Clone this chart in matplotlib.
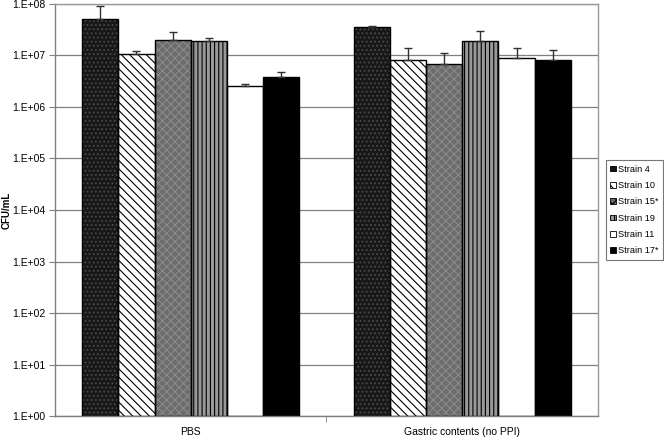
import matplotlib
matplotlib.use("Agg")
import matplotlib.pyplot as plt
import numpy as np
from matplotlib.ticker import FixedLocator, NullLocator
from matplotlib.patches import Patch

# data
groups = ["PBS", "Gastric contents (no PPI)"]
strains = ["Strain 4", "Strain 10", "Strain 15*", "Strain 19", "Strain 11", "Strain 17*"]
means = [
    [5.1e7, 1.09e7, 2.04e7, 1.92e7, 2.58e6, 3.85e6],
    [3.57e7, 8.0e6, 6.9e6, 1.95e7, 9.1e6, 8.2e6],
]
upper = [
    [9.3e7, 1.23e7, 2.8e7, 2.23e7, 2.79e6, 4.8e6],
    [3.8e7, 1.37e7, 1.11e7, 3.05e7, 1.37e7, 1.28e7],
]
ytick_vals = [1e0, 1e1, 1e2, 1e3, 1e4, 1e5, 1e6, 1e7, 1e8]
ytick_labels = ["1.E+00", "1.E+01", "1.E+02", "1.E+03", "1.E+04",
                "1.E+05", "1.E+06", "1.E+07", "1.E+08"]

# face colour, hatch, hatch colour for each strain
styles = [
    ("#181818", "....", "#4a4a4a"),
    ("white", "\\\\\\\\", "black"),
    ("#6c6c6c", "xxxx", "#8a8a8a"),
    ("#9a9a9a", "||||", "black"),
    ("white", None, "black"),
    ("black", None, "black"),
]

plt.rcParams['font.family'] = ['Liberation Sans', 'DejaVu Sans']
plt.rcParams['hatch.linewidth'] = 0.8

fig = plt.figure(figsize=(6.64, 4.38), dpi=100)
ax = fig.add_axes([0.0828, 0.0502, 0.8178, 0.9407])

n = len(strains)
w = 0.8 / n
x = np.arange(len(groups))
for i in range(n):
    vals = np.array([means[g][i] for g in range(len(groups))])
    tops = np.array([upper[g][i] for g in range(len(groups))])
    pos = x - 0.4 + w * (i + 0.5)
    fc, hatch, hc = styles[i]
    ax.bar(pos, vals, width=w, bottom=1, color=fc, hatch=hatch,
           edgecolor=hc, linewidth=0, zorder=2)
    ax.bar(pos, vals, width=w, bottom=1, fill=False, edgecolor="black",
           linewidth=1.0, zorder=3)
    ax.errorbar(pos, vals, yerr=[np.zeros_like(vals), tops - vals],
                fmt="none", ecolor="#303030", elinewidth=1, capsize=3,
                capthick=1, zorder=4)

# legend proxies
handles = [Patch(facecolor=s[0], hatch=s[1], edgecolor="black", linewidth=0.6)
           for s in styles]
leg = ax.legend(handles, strains, loc="center left", bbox_to_anchor=(1.014, 0.5),
                frameon=True, fancybox=False, fontsize=6.6, handlelength=0.6,
                handleheight=0.6, handletextpad=0.2, labelspacing=0.8,
                borderpad=0.5, borderaxespad=0)
leg.get_frame().set_edgecolor("#555555")
leg.get_frame().set_linewidth(0.8)

ax.set_yscale("log")
ax.set_ylim(1, 1e8)
ax.set_xlim(-0.5, len(groups) - 0.5)
ax.yaxis.set_major_locator(FixedLocator(ytick_vals))
ax.yaxis.set_minor_locator(NullLocator())
ax.set_yticklabels(ytick_labels, fontsize=7.5)
ax.grid(axis="y", color="#808080", linewidth=0.9, zorder=0)
ax.set_axisbelow(True)

ax.set_xticks(x)
ax.set_xticklabels(groups, fontsize=7.5)
ax.tick_params(axis="x", length=0, pad=8)
ax.set_xticks([0.5], minor=True)
ax.tick_params(axis="x", which="minor", length=4, color="#808080", direction="out")
ax.tick_params(axis="y", length=4, color="#808080", direction="out", pad=3)

for side in ["top", "right"]:
    ax.spines[side].set_color("#999999")
for side in ["left", "bottom"]:
    ax.spines[side].set_color("#808080")
for s in ax.spines.values():
    s.set_linewidth(1.0)

ax.set_ylabel("CFU/mL", fontsize=7, fontweight="bold", va="center")
ax.yaxis.set_label_coords(-0.089, 0.5)

fig.savefig("out.png", dpi=100)
